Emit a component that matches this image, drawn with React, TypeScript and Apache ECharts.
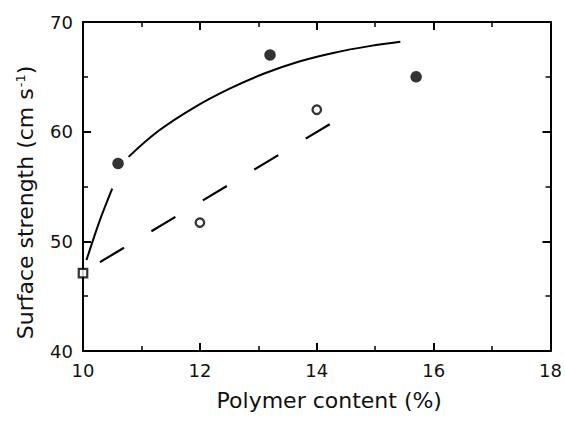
import React, { useEffect, useRef } from "react";
import * as echarts from "echarts";

// Data
const filledPoints: number[][] = [
  [10.6, 57.1],
  [13.2, 67.0],
  [15.7, 65.0],
];
const openPoints: number[][] = [
  [12.0, 51.7],
  [14.0, 62.0],
];
const squarePoints: number[][] = [[10.0, 47.1]];

// Solid fitted curve (drawn in two pieces, broken around the first dot)
const solidCurveLow: number[][] = [
  [10.06, 48.3],
  [10.28, 51.8],
  [10.5, 54.8],
];
const solidCurveHigh: number[][] = [
  [10.78, 57.7],
  [11.3, 60.1],
  [11.9, 62.2],
  [12.5, 63.9],
  [13.1, 65.3],
  [13.7, 66.4],
  [14.3, 67.2],
  [14.9, 67.8],
  [15.43, 68.2],
];
// Dashed straight fit
const dashedLine: number[][] = [
  [10.29, 48.1],
  [14.26, 60.8],
];

const xTicks = { min: 10, max: 18, interval: 2 };
const yTicks = { min: 40, max: 70, interval: 10 };

const xTitle = "Polymer content (%)";
const yTitle = "Surface strength (cm s{sup|-1})";

export default function App() {
  const ref = useRef<HTMLDivElement>(null);
  useEffect(() => {
    document.body.style.margin = "0";
    if (!ref.current) return;
    const chart = echarts.init(ref.current, null, { renderer: "svg" });
    const font = "'DejaVu Sans', sans-serif";
    const axisLine = { show: true, lineStyle: { color: "#000", width: 2 } };
    const minorTick = { show: true, splitNumber: 2, length: 5, lineStyle: { color: "#000", width: 1.5 } };
    const baseAxis = (show: boolean) => ({
      axisLine,
      axisTick: { show: true, inside: true, length: 8, lineStyle: { color: "#000", width: 2 } },
      minorTick,
      splitLine: { show: false },
      minorSplitLine: { show: false },
      axisLabel: {
        show,
        color: "#111",
        fontSize: 18,
        fontFamily: font,
        margin: 10,
      },
    });
    chart.setOption({
      animation: false,
      backgroundColor: "#fff",
      grid: { left: 83, right: 13, top: 22, bottom: 75, containLabel: false },
      xAxis: [
        {
          type: "value",
          ...xTicks,
          ...baseAxis(true),
          name: xTitle,
          nameLocation: "middle",
          nameGap: 38,
          nameTextStyle: { color: "#111", fontSize: 22, fontFamily: font, padding: [0, 0, 0, 25] },
        },
        {
          type: "value",
          position: "top",
          ...xTicks,
          ...baseAxis(false),
        },
      ],
      yAxis: [
        {
          type: "value",
          ...yTicks,
          ...baseAxis(true),
          name: yTitle,
          nameLocation: "middle",
          nameGap: 46,
          nameTextStyle: {
            color: "#111",
            fontSize: 22,
            fontFamily: font,
            padding: [0, 32, 0, 0],
            rich: {
              sup: { fontSize: 13, fontFamily: font, color: "#111", verticalAlign: "top", padding: [0, 0, 10, 1] },
            },
          },
        },
        {
          type: "value",
          position: "right",
          ...yTicks,
          ...baseAxis(false),
        },
      ],
      series: [
        {
          type: "line",
          data: solidCurveLow,
          smooth: 0.3,
          showSymbol: false,
          lineStyle: { color: "#000", width: 2 },
        },
        {
          type: "line",
          data: solidCurveHigh,
          smooth: 0.4,
          showSymbol: false,
          lineStyle: { color: "#000", width: 2 },
        },
        {
          type: "line",
          data: dashedLine,
          showSymbol: false,
          lineStyle: { color: "#000", width: 2.2, type: [28, 32] },
        },
        {
          type: "scatter",
          data: filledPoints,
          symbol: "circle",
          symbolSize: 11.5,
          clip: false,
          itemStyle: { color: "#000" },
        },
        {
          type: "scatter",
          data: openPoints,
          symbol: "circle",
          symbolSize: 8.5,
          clip: false,
          itemStyle: { color: "#fff", borderColor: "#000", borderWidth: 2.3 },
        },
        {
          type: "scatter",
          data: squarePoints,
          symbol: "rect",
          symbolSize: 8.5,
          clip: false,
          z: 5,
          itemStyle: { color: "#fff", borderColor: "#000", borderWidth: 2.2 },
        },
      ],
    });
    return () => chart.dispose();
  }, []);
  return <div ref={ref} style={{ width: 565, height: 426 }} />;
}
